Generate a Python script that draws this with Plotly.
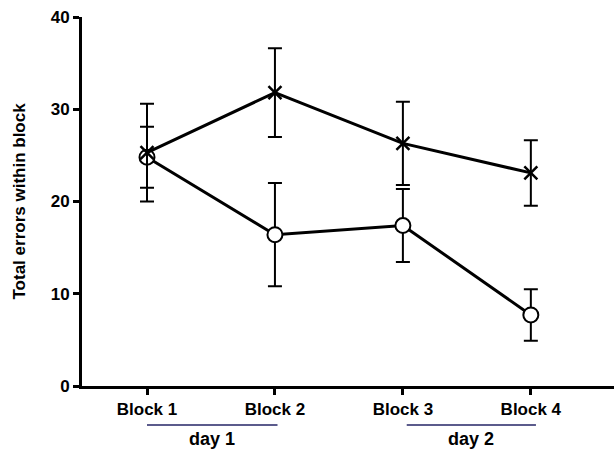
import plotly.graph_objects as go

categories = ["Block 1", "Block 2", "Block 3", "Block 4"]
x_pos = [0, 1, 2, 3]
cross_mean = [25.3, 31.8, 26.3, 23.1]
cross_err = [5.3, 4.8, 4.5, 3.55]
circle_mean = [24.8, 16.4, 17.4, 7.7]
circle_err = [3.3, 5.6, 3.95, 2.8]
y_ticks = [0, 10, 20, 30, 40]
day_labels = ["day 1", "day 2"]
day_spans = [(0.0, 1.02), (2.03, 3.04)]

FONT = "Liberation Sans, Arial, sans-serif"
PLOT_H = 456 - 17 - 70  # plot area height in px

fig = go.Figure()
fig.add_trace(go.Scatter(
    x=x_pos, y=circle_mean, mode="lines+markers",
    line=dict(color="black", width=3),
    marker=dict(symbol="circle", size=15, color="white", line=dict(color="black", width=2)),
    error_y=dict(type="data", array=circle_err, color="black", thickness=2, width=7),
    showlegend=False, hoverinfo="skip",
))
fig.add_trace(go.Scatter(
    x=x_pos, y=cross_mean, mode="lines+markers",
    line=dict(color="black", width=3),
    marker=dict(symbol="x-thin-open", size=13, color="black", line=dict(color="black", width=2.5)),
    error_y=dict(type="data", array=cross_err, color="black", thickness=2, width=7),
    showlegend=False, hoverinfo="skip",
))

for (x0, x1), lab in zip(day_spans, day_labels):
    fig.add_shape(type="line", xref="x", yref="paper", x0=x0, x1=x1,
                  y0=-39 / PLOT_H, y1=-39 / PLOT_H,
                  line=dict(color="#5b5b8c", width=2))
    fig.add_annotation(xref="x", yref="paper", x=(x0 + x1) / 2, y=-53 / PLOT_H,
                       yanchor="middle", xanchor="center",
                       text="<b>" + lab + "</b>",
                       showarrow=False, font=dict(family=FONT, size=18, color="black"))

fig.add_annotation(xref="paper", yref="paper", x=-63 / 532, y=0.5, xanchor="center", yanchor="middle",
                   text="<b>Total errors within block</b>", textangle=-90, showarrow=False,
                   font=dict(family=FONT, size=17, color="black"))

fig.update_layout(
    width=614, height=456,
    margin=dict(l=82, r=0, t=17, b=70),
    plot_bgcolor="white", paper_bgcolor="white",
    font=dict(family=FONT, color="black"),
)
fig.update_xaxes(
    range=[-0.508, 3.65], tickvals=x_pos, ticktext=["<b>%s</b>" % c for c in categories],
    showgrid=False, zeroline=False, showline=True, linecolor="black", linewidth=3,
    ticks="outside", ticklen=6, tickwidth=3, tickcolor="black", automargin=False,
    tickfont=dict(family=FONT, size=17, color="black"),
)
fig.update_yaxes(
    range=[0, 40], tickvals=y_ticks, ticktext=["<b>%d</b>" % v for v in y_ticks],
    showgrid=False, zeroline=False, showline=True, linecolor="black", linewidth=3,
    ticks="outside", ticklen=6, tickwidth=3, tickcolor="black", automargin=False,
    tickfont=dict(family=FONT, size=17, color="black"),
)

fig.write_html("out.html", config={"displayModeBar": False},
               post_script="document.body.style.margin='0px';")
